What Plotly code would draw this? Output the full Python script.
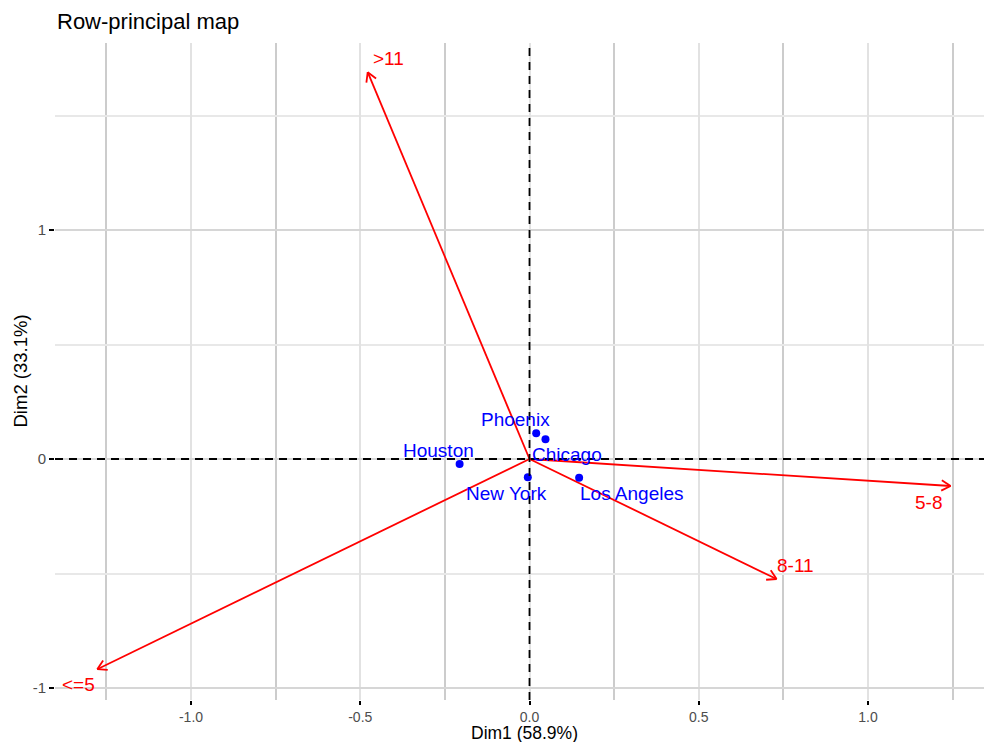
import math
import plotly.graph_objects as go

# ---------------- data ----------------
row_names = ["Houston", "Phoenix", "Chicago", "New York", "Los Angeles"]
row_dim1 = [-0.2065, 0.0198, 0.0472, -0.0050, 0.1466]
row_dim2 = [-0.0218, 0.1120, 0.0860, -0.0800, -0.0817]

col_names = [">11", "5-8", "8-11", "<=5"]
col_dim1 = [-0.478, 1.244, 0.730, -1.277]
col_dim2 = [1.689, -0.118, -0.524, -0.918]

x_tickvals = [-1.0, -0.5, 0.0, 0.5, 1.0]
x_ticktext = ["-1.0", "-0.5", "0.0", "0.5", "1.0"]
y_tickvals = [-1, 0, 1]
y_ticktext = ["-1", "0", "1"]

title_text = "Row-principal map"
x_title = "Dim1 (58.9%)"
y_title = "Dim2 (33.1%)"

# ---------------- layout / style ----------------
W, H = 984, 742
ML, MR, MT, MB = 55, 0, 43, 42
XR = [-1.4018, 1.3427]
YR = [-1.0524, 1.8166]
PW, PH = W - ML - MR, H - MT - MB
SX = PW / (XR[1] - XR[0])
SY = PH / (YR[1] - YR[0])

# label pixel offsets (dx right, dy up)
row_label_shift = [(-21, 13), (-21, 14), (22, -15), (-21.5, -16), (53, -15.5)]
col_label_shift = [(21, 14), (-22, -16), (19, 14), (-19, -15)]

FONT = "Liberation Sans, Arial, sans-serif"
RED = "#FF0000"
BLUE = "#0000FF"

fig = go.Figure()

# arrows (segments from origin + open arrowheads computed in pixel space)
ax_x, ax_y = [], []
head_len, head_ang = 10.5, math.radians(30)
for x, y in zip(col_dim1, col_dim2):
    ax_x += [0, x, None]
    ax_y += [0, y, None]
    px, py = x * SX, y * SY
    L = math.hypot(px, py)
    ux, uy = -px / L, -py / L
    for s in (1, -1):
        c, sn = math.cos(s * head_ang), math.sin(s * head_ang)
        rx, ry = ux * c - uy * sn, ux * sn + uy * c
        ax_x += [x + rx * head_len / SX, x, None]
        ax_y += [y + ry * head_len / SY, y, None]

fig.add_trace(go.Scatter(x=ax_x, y=ax_y, mode="lines",
                         line=dict(color=RED, width=1.8),
                         hoverinfo="skip", showlegend=False, cliponaxis=False))

fig.add_trace(go.Scatter(x=row_dim1, y=row_dim2, mode="markers",
                         marker=dict(color=BLUE, size=8),
                         text=row_names, showlegend=False, cliponaxis=False))

annotations = []
for name, x, y, (dx, dy) in zip(row_names, row_dim1, row_dim2, row_label_shift):
    annotations.append(dict(x=x, y=y, xref="x", yref="y", text=name, showarrow=False,
                            xshift=dx, yshift=dy, xanchor="center", yanchor="middle",
                            font=dict(family=FONT, size=19, color=BLUE)))
for name, x, y, (dx, dy) in zip(col_names, col_dim1, col_dim2, col_label_shift):
    txt = name.replace("<", "&lt;").replace(">", "&gt;")
    annotations.append(dict(x=x, y=y, xref="x", yref="y", text=txt, showarrow=False,
                            xshift=dx, yshift=dy, xanchor="center", yanchor="middle",
                            font=dict(family=FONT, size=19, color=RED)))

annotations.append(dict(x=0, y=1 + (MT - 21) / PH, xref="paper", yref="paper",
                        text=title_text, showarrow=False, xanchor="left", yanchor="middle",
                        font=dict(family=FONT, size=22, color="black")))
annotations.append(dict(x=(524 - ML) / PW, y=-(732.5 - (H - MB)) / PH, xref="paper", yref="paper",
                        text=x_title, showarrow=False, xanchor="center", yanchor="middle",
                        borderpad=0,
                        font=dict(family=FONT, size=17.5, color="black")))
annotations.append(dict(x=-(ML - 20) / PW, y=0.5, xref="paper", yref="paper",
                        text=y_title, showarrow=False, textangle=-90,
                        xanchor="center", yanchor="middle",
                        font=dict(family=FONT, size=18.5, color="black")))

shapes = [
    dict(type="line", xref="x", yref="paper", x0=0, x1=0, y0=0, y1=1,
         line=dict(color="black", width=1.8, dash="8px,6px"), layer="above"),
    dict(type="line", xref="paper", yref="y", x0=0, x1=1, y0=0, y1=0,
         line=dict(color="black", width=1.8, dash="8px,6px"), layer="above"),
]

fig.update_layout(
    width=W, height=H,
    margin=dict(l=ML, r=MR, t=MT, b=MB, pad=0),
    paper_bgcolor="white", plot_bgcolor="white",
    annotations=annotations, shapes=shapes,
    font=dict(family=FONT),
    showlegend=False,
)

fig.update_xaxes(
    range=XR, showline=False, zeroline=False,
    tickmode="array", tickvals=x_tickvals, ticktext=x_ticktext,
    ticks="outside", ticklen=4, tickwidth=1.5, tickcolor="black",
    tickfont=dict(family=FONT, size=14, color="#4d4d4d"),
    showgrid=True, gridcolor="#e2e2e2", gridwidth=1.5,
    minor=dict(tickmode="linear", tick0=0, dtick=0.25, showgrid=True,
               gridcolor="#cccccc", gridwidth=1.5, ticks=""),
)
fig.update_yaxes(
    range=YR, showline=False, zeroline=False,
    tickmode="array", tickvals=y_tickvals, ticktext=y_ticktext,
    ticks="outside", ticklen=5, tickwidth=1.5, tickcolor="black",
    tickfont=dict(family=FONT, size=15, color="#4d4d4d"),
    showgrid=True, gridcolor="#d6d6d6", gridwidth=1.5,
    minor=dict(tickmode="linear", tick0=0, dtick=0.5, showgrid=True,
               gridcolor="#e8e8e8", gridwidth=1.5, ticks=""),
)

fig.write_html("out.html",
               config={"displayModeBar": False},
               post_script="document.body.style.margin='0';document.body.style.overflow='hidden';")
